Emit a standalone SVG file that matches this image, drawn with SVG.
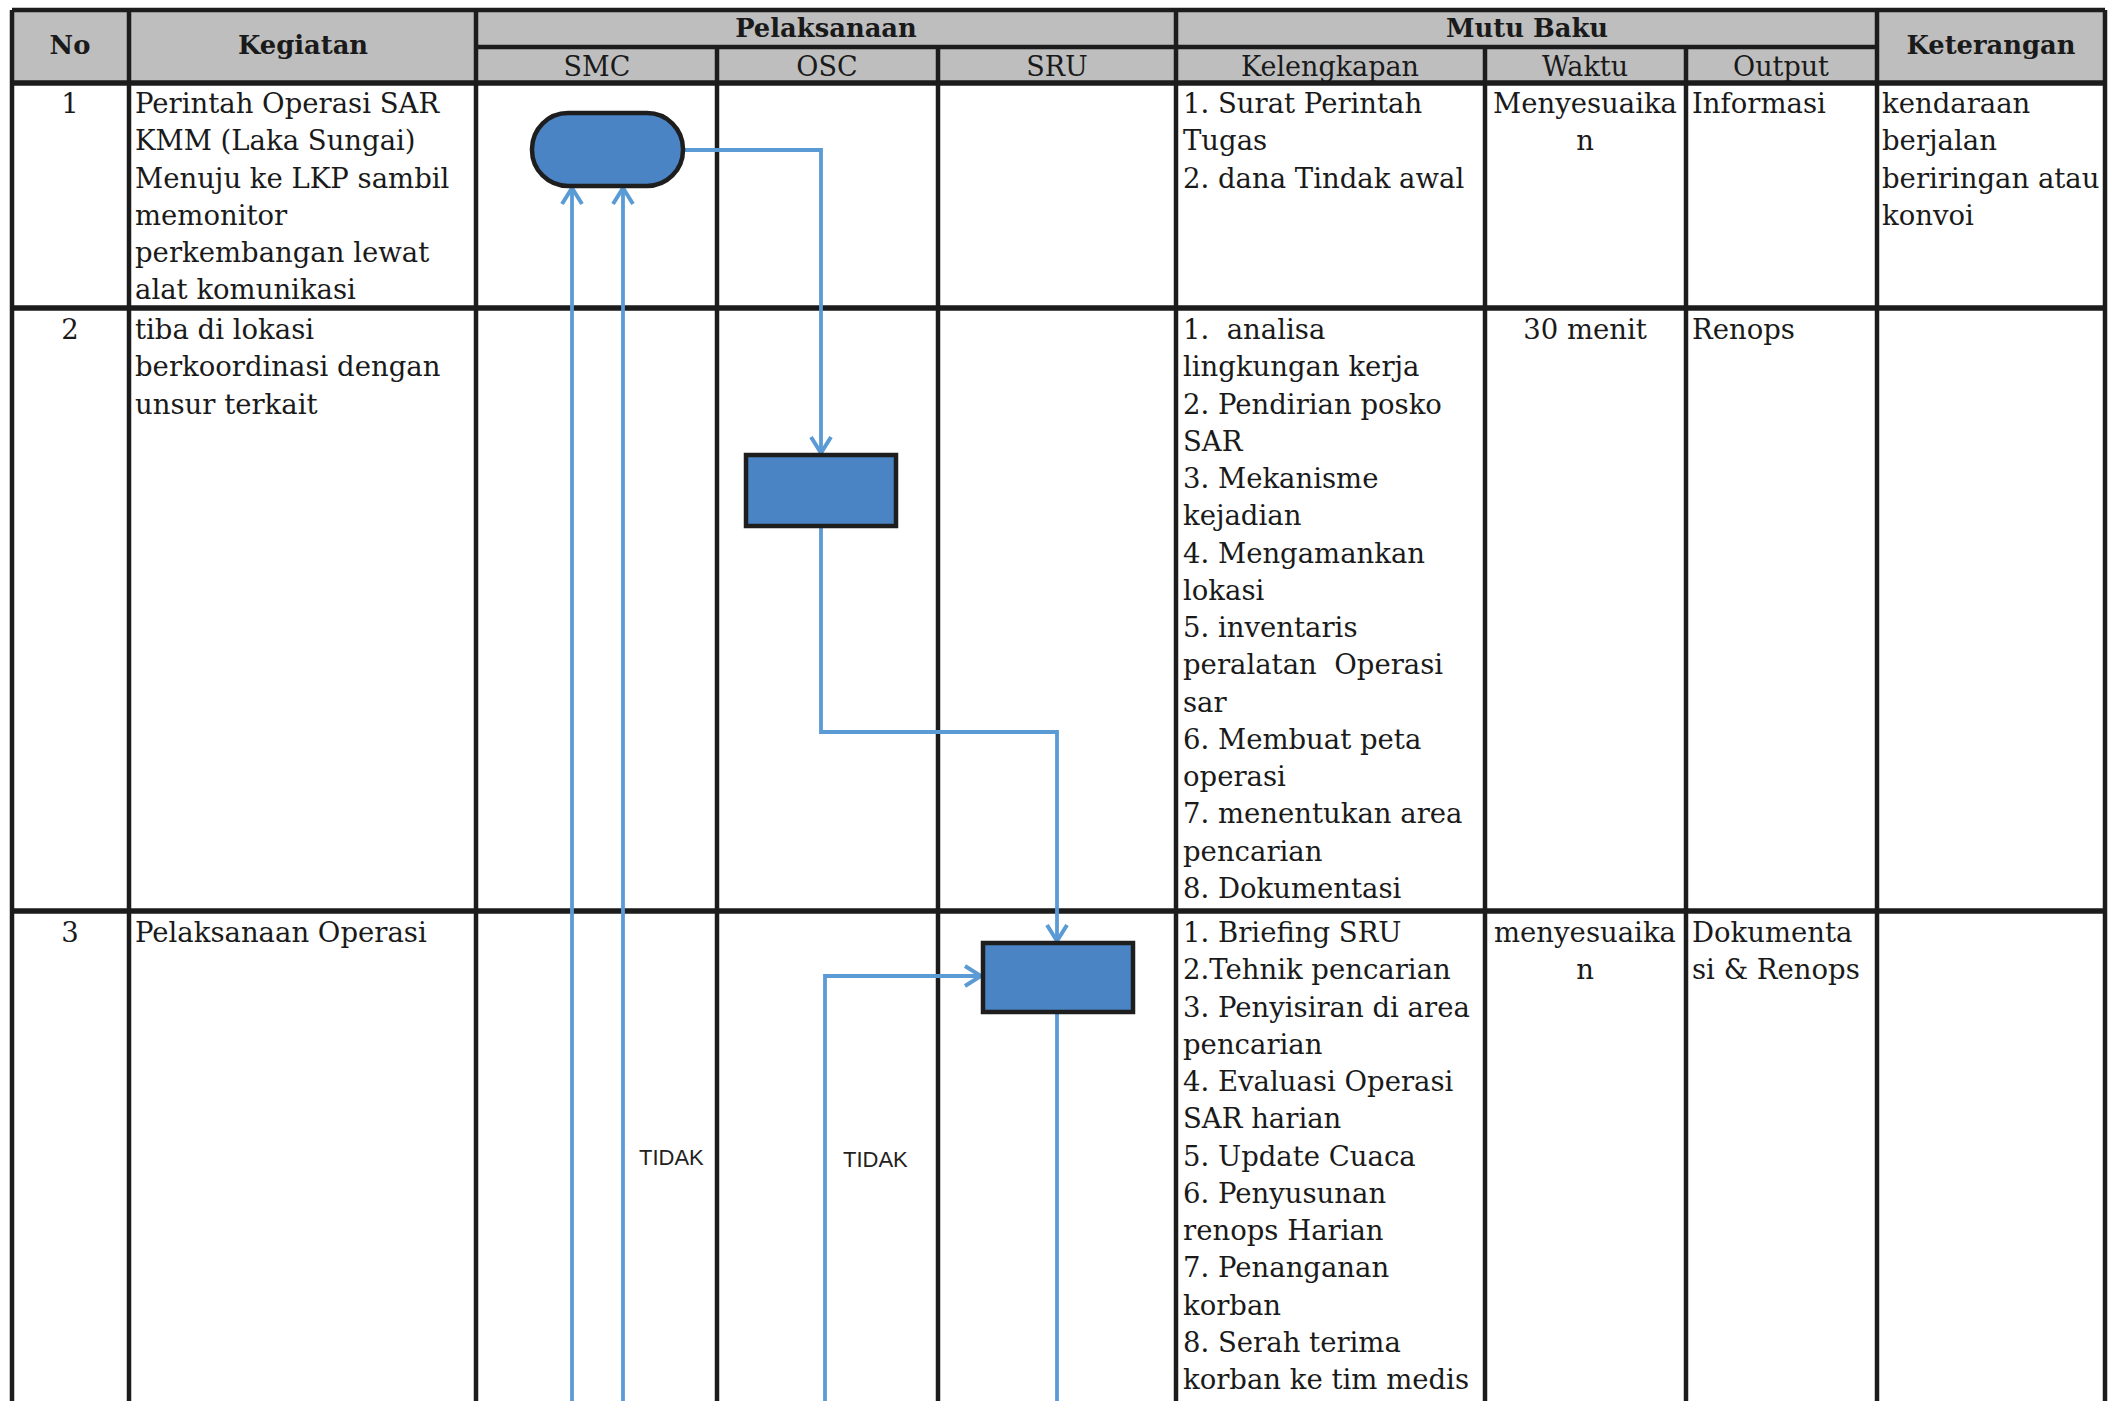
<svg xmlns="http://www.w3.org/2000/svg" width="2122" height="1401" viewBox="0 0 2122 1401">
<defs>
<style>
.grid{stroke:#1c1c1c;stroke-width:4.5;fill:none}
.row{stroke:#1c1c1c;stroke-width:5.5;fill:none}
.hdr{font-family:"DejaVu Serif","Liberation Serif",serif;font-weight:bold;font-size:25.8px;fill:#1a1a1a}
.sub{font-family:"DejaVu Serif","Liberation Serif",serif;font-size:27px;fill:#1a1a1a}
.t{font-family:"DejaVu Serif","Liberation Serif",serif;font-size:27.5px;fill:#1a1a1a;white-space:pre}
.c{text-anchor:middle}
.lbl{font-family:"Liberation Sans",Arial,sans-serif;font-size:22px;fill:#222}
.node{fill:#4A84C4;stroke:#1e1e1e;stroke-width:4.5}
.conn{fill:none;stroke:#5B9BD5;stroke-width:3.8}
</style>
<marker id="arr" viewBox="0 0 20 24" refX="18" refY="12" markerWidth="20" markerHeight="24" markerUnits="userSpaceOnUse" orient="auto">
<path d="M2,2 L18,12 L2,22" fill="none" stroke="#5B9BD5" stroke-width="4"/>
</marker>
</defs>
<rect x="0" y="0" width="2122" height="1401" fill="#ffffff"/>

<g id="table">
<rect x="12" y="10" width="2093" height="73" fill="#BEBEBE"/>
<path class="grid" d="M12,10 H2105 M12,10 V1401 M2105,10 V1401 M129,10 V1401 M476,10 V1401 M1176,10 V1401 M1877,10 V1401 M476,47 H1877 M717,47 V1401 M938,47 V1401 M1485,47 V1401 M1686,47 V1401"/>
<path class="row" d="M12,83 H2105 M12,308 H2105 M12,911 H2105"/>
</g>

<g id="header">
<text class="hdr c" x="70" y="54">No</text>
<text class="hdr c" x="303" y="54">Kegiatan</text>
<text class="hdr c" x="826" y="37">Pelaksanaan</text>
<text class="hdr c" x="1527" y="37">Mutu Baku</text>
<text class="hdr c" x="1991" y="54">Keterangan</text>
<text class="sub c" x="597" y="76">SMC</text>
<text class="sub c" x="827" y="76">OSC</text>
<text class="sub c" x="1057" y="76">SRU</text>
<text class="sub c" x="1330" y="76">Kelengkapan</text>
<text class="sub c" x="1585" y="76">Waktu</text>
<text class="sub c" x="1781" y="76">Output</text>
</g>

<g id="row1">
<text class="t c" x="70" y="113">1</text>
<text class="t" x="135" y="113"><tspan x="135" y="113">Perintah Operasi SAR</tspan><tspan x="135" dy="37.25">KMM (Laka Sungai)</tspan><tspan x="135" dy="37.25">Menuju ke LKP sambil</tspan><tspan x="135" dy="37.25">memonitor</tspan><tspan x="135" dy="37.25">perkembangan lewat</tspan><tspan x="135" dy="37.25">alat komunikasi</tspan></text>
<text class="t" x="1183" y="113"><tspan x="1183" y="113">1. Surat Perintah</tspan><tspan x="1183" dy="37.25">Tugas</tspan><tspan x="1183" dy="37.25">2. dana Tindak awal</tspan></text>
<text class="t c" x="1585" y="113"><tspan x="1585" y="113">Menyesuaika</tspan><tspan x="1585" dy="37.25">n</tspan></text>
<text class="t" x="1692" y="113">Informasi</text>
<text class="t" x="1882" y="113"><tspan x="1882" y="113">kendaraan</tspan><tspan x="1882" dy="37.25">berjalan</tspan><tspan x="1882" dy="37.25">beriringan atau</tspan><tspan x="1882" dy="37.25">konvoi</tspan></text>
</g>

<g id="row2">
<text class="t c" x="70" y="339">2</text>
<text class="t" x="135" y="339"><tspan x="135" y="339">tiba di lokasi</tspan><tspan x="135" dy="37.25">berkoordinasi dengan</tspan><tspan x="135" dy="37.25">unsur terkait</tspan></text>
<text class="t" x="1183" y="339"><tspan x="1183" y="339">1.  analisa</tspan><tspan x="1183" dy="37.25">lingkungan kerja</tspan><tspan x="1183" dy="37.25">2. Pendirian posko</tspan><tspan x="1183" dy="37.25">SAR</tspan><tspan x="1183" dy="37.25">3. Mekanisme</tspan><tspan x="1183" dy="37.25">kejadian</tspan><tspan x="1183" dy="37.25">4. Mengamankan</tspan><tspan x="1183" dy="37.25">lokasi</tspan><tspan x="1183" dy="37.25">5. inventaris</tspan><tspan x="1183" dy="37.25">peralatan  Operasi</tspan><tspan x="1183" dy="37.25">sar</tspan><tspan x="1183" dy="37.25">6. Membuat peta</tspan><tspan x="1183" dy="37.25">operasi</tspan><tspan x="1183" dy="37.25">7. menentukan area</tspan><tspan x="1183" dy="37.25">pencarian</tspan><tspan x="1183" dy="37.25">8. Dokumentasi</tspan></text>
<text class="t c" x="1585" y="339">30 menit</text>
<text class="t" x="1692" y="339">Renops</text>
</g>

<g id="row3">
<text class="t c" x="70" y="942">3</text>
<text class="t" x="135" y="942">Pelaksanaan Operasi</text>
<text class="t" x="1183" y="942"><tspan x="1183" y="942">1. Briefing SRU</tspan><tspan x="1183" dy="37.25">2.Tehnik pencarian</tspan><tspan x="1183" dy="37.25">3. Penyisiran di area</tspan><tspan x="1183" dy="37.25">pencarian</tspan><tspan x="1183" dy="37.25">4. Evaluasi Operasi</tspan><tspan x="1183" dy="37.25">SAR harian</tspan><tspan x="1183" dy="37.25">5. Update Cuaca</tspan><tspan x="1183" dy="37.25">6. Penyusunan</tspan><tspan x="1183" dy="37.25">renops Harian</tspan><tspan x="1183" dy="37.25">7. Penanganan</tspan><tspan x="1183" dy="37.25">korban</tspan><tspan x="1183" dy="37.25">8. Serah terima</tspan><tspan x="1183" dy="37.25">korban ke tim medis</tspan></text>
<text class="t c" x="1585" y="942"><tspan x="1585" y="942">menyesuaika</tspan><tspan x="1585" dy="37.25">n</tspan></text>
<text class="t" x="1692" y="942"><tspan x="1692" y="942">Dokumenta</tspan><tspan x="1692" dy="37.25">si &amp; Renops</tspan></text>
</g>

<g id="connectors">
<path class="conn" d="M683,150 H821 V453" marker-end="url(#arr)"/>
<path class="conn" d="M821,526 V732 H1057 V941" marker-end="url(#arr)"/>
<path class="conn" d="M825,1401 V976 H981" marker-end="url(#arr)"/>
<path class="conn" d="M1057,1012 V1401"/>
<path class="conn" d="M572,1401 V188" marker-end="url(#arr)"/>
<path class="conn" d="M623,1401 V188" marker-end="url(#arr)"/>
<text class="lbl" x="639" y="1165">TIDAK</text>
<text class="lbl" x="843" y="1167">TIDAK</text>
</g>

<g id="node-smc-start">
<rect class="node" x="532" y="113" width="151" height="73" rx="36" ry="36"/>
</g>
<g id="node-osc">
<rect class="node" x="746" y="455" width="150" height="71"/>
</g>
<g id="node-sru">
<rect class="node" x="983" y="943" width="150" height="69"/>
</g>
</svg>
